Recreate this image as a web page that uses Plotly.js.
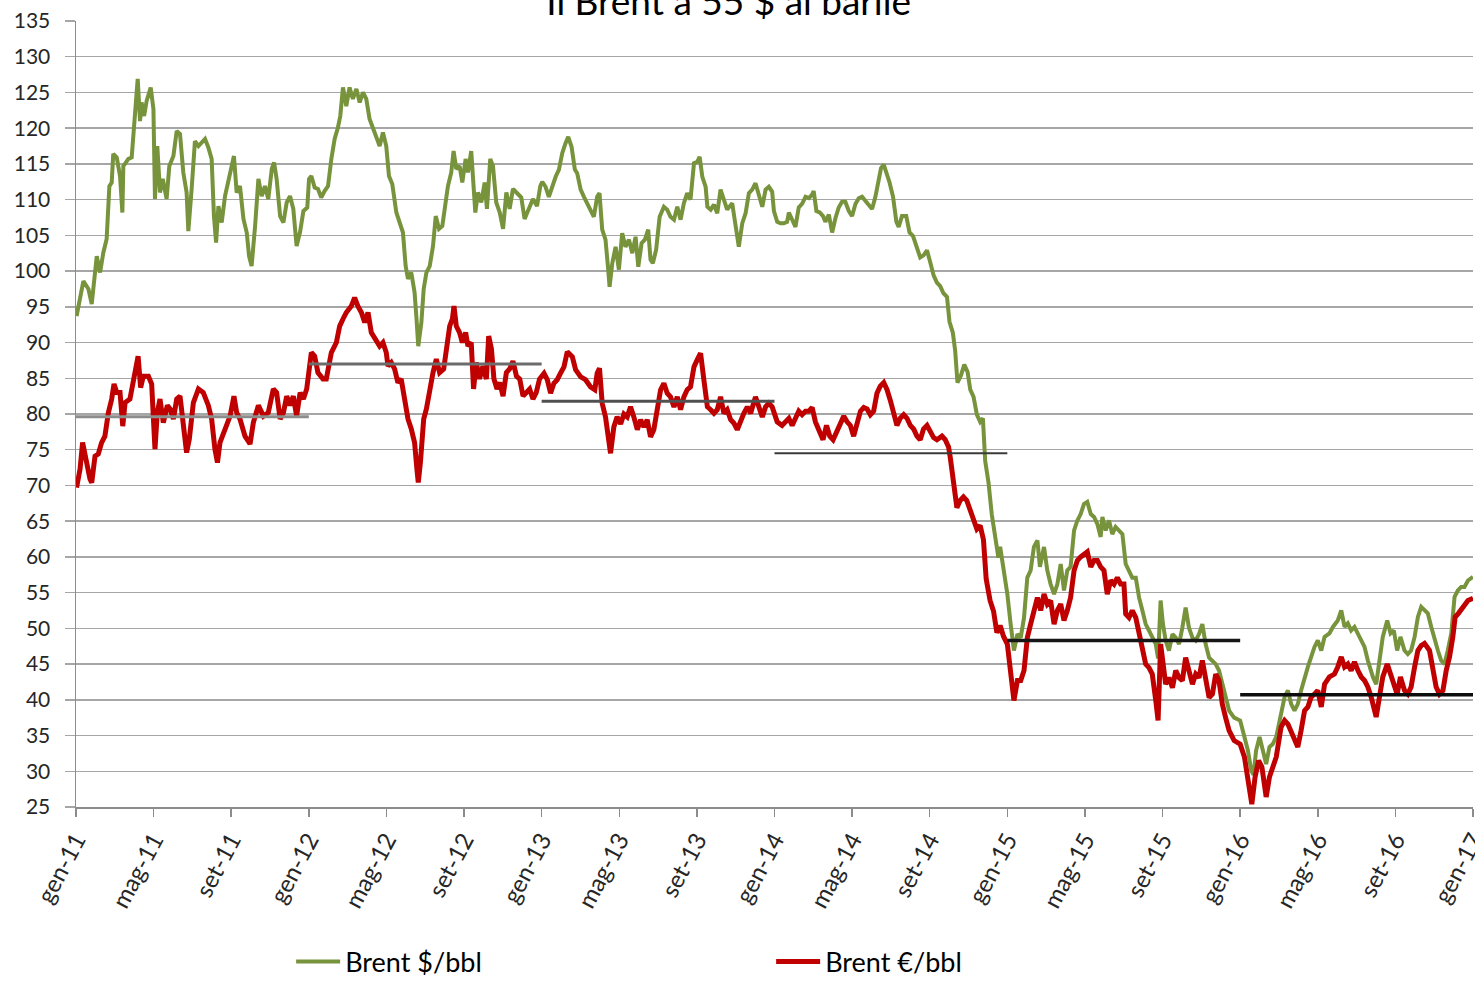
<!DOCTYPE html>
<html>
<head>
<meta charset="utf-8">
<script src="https://cdn.plot.ly/plotly-3.0.1.min.js"></script>
<style>
  html, body { margin: 0; padding: 0; background: #fff; }
  #chart { width: 1475px; height: 981px; }
</style>
</head>
<body>
<div id="chart"></div>
<script>
// x = months since gen-11 (Jan 2011)
const tickMonths = [0, 4, 8, 12, 16, 20, 24, 28, 32, 36, 40, 44, 48, 52, 56, 60, 64, 68, 72];
const tickLabels = ['gen-11', 'mag-11', 'set-11', 'gen-12', 'mag-12', 'set-12', 'gen-13', 'mag-13', 'set-13',
  'gen-14', 'mag-14', 'set-14', 'gen-15', 'mag-15', 'set-15', 'gen-16', 'mag-16', 'set-16', 'gen-17'];

const usdMonths = [
  0.03, 0.12, 0.38, 0.64, 0.81, 1.07, 1.24, 1.41, 1.58, 1.72, 1.84, 1.92, 2.10, 2.27, 2.39, 2.44, 2.70, 2.87, 2.96, 3.09,
  3.18, 3.30, 3.38, 3.51, 3.64, 3.85, 3.99, 4.07, 4.19, 4.33, 4.47, 4.67, 4.81, 5.02, 5.19, 5.36, 5.53, 5.70, 5.79, 5.96,
  6.13, 6.31, 6.48, 6.65, 6.82, 6.99, 7.11, 7.22, 7.34, 7.51, 7.68, 7.85, 8.02, 8.14, 8.28, 8.45, 8.63, 8.80, 8.92, 9.05,
  9.23, 9.40, 9.57, 9.74, 9.91, 10.09, 10.21, 10.34, 10.52, 10.69, 10.86, 11.03, 11.20, 11.37, 11.55, 11.72, 11.92,
  12.01, 12.13, 12.30, 12.47, 12.64, 12.81, 12.99, 13.16, 13.33, 13.50, 13.62, 13.76, 13.93, 14.10, 14.27, 14.45, 14.62, 14.79, 14.96, 15.13,
  15.27, 15.48, 15.65, 15.82, 15.99, 16.13, 16.30, 16.51, 16.68, 16.85, 16.99, 17.11, 17.28, 17.45, 17.54, 17.64, 17.80, 17.92, 18.06, 18.23,
  18.40, 18.54, 18.71, 18.88, 19.05, 19.17, 19.34, 19.46, 19.60, 19.77, 19.91, 20.08, 20.20, 20.37, 20.49, 20.58, 20.72, 20.89, 21.06, 21.18,
  21.35, 21.49, 21.66, 21.84, 22.01, 22.18, 22.35, 22.52, 22.70, 22.95, 23.12, 23.38, 23.55, 23.76, 23.93,
  24.03, 24.20, 24.37, 24.54, 24.72, 24.89, 25.06, 25.23, 25.37, 25.54, 25.71, 25.83, 26.01, 26.18, 26.35, 26.52, 26.69, 26.86, 26.98, 27.12,
  27.29, 27.43, 27.50, 27.64, 27.81, 27.98, 28.15, 28.32, 28.50, 28.67, 28.84, 28.98, 29.15, 29.32, 29.49, 29.61, 29.73, 29.90, 30.08, 30.30,
  30.47, 30.64, 30.82, 30.99, 31.16, 31.33, 31.50, 31.67, 31.85, 32.02, 32.14, 32.28, 32.45, 32.54, 32.71, 32.88, 33.05, 33.22, 33.39, 33.56,
  33.82, 33.99, 34.16, 34.34, 34.51, 34.68, 34.85, 35.02, 35.20, 35.37, 35.54, 35.71, 35.88,
  35.97, 36.14, 36.31, 36.48, 36.65, 36.74, 36.91, 37.08, 37.25, 37.42, 37.60, 37.77, 37.94, 38.02, 38.16, 38.33, 38.50, 38.62, 38.80, 38.97,
  39.14, 39.31, 39.48, 39.65, 39.83, 40.00, 40.17, 40.34, 40.51, 40.68, 40.85, 41.03, 41.20, 41.37, 41.49, 41.63, 41.76, 41.93, 42.11, 42.28,
  42.40, 42.57, 42.79, 42.96, 43.14, 43.31, 43.51, 43.68, 43.86, 44.03, 44.20, 44.37, 44.54, 44.71, 44.89, 45.02, 45.19, 45.31, 45.43, 45.61,
  45.78, 45.95, 46.09, 46.26, 46.43, 46.60, 46.74, 46.86, 47.03, 47.20, 47.37, 47.54, 47.63, 47.80,
  48.00, 48.17, 48.34, 48.52, 48.69, 48.86, 49.03, 49.20, 49.37, 49.55, 49.68, 49.89, 50.06, 50.23, 50.41, 50.58, 50.75, 50.92, 51.09, 51.26,
  51.44, 51.61, 51.78, 51.95, 52.12, 52.30, 52.47, 52.64, 52.81, 52.90, 53.07, 53.24, 53.41, 53.58, 53.76, 53.93, 54.10, 54.27, 54.44, 54.62,
  54.79, 54.96, 55.13, 55.30, 55.47, 55.65, 55.77, 55.90, 56.02, 56.16, 56.33, 56.51, 56.68, 56.85, 57.02, 57.19, 57.36, 57.54, 57.71, 57.88,
  58.05, 58.22, 58.40, 58.57, 58.74, 58.91, 59.08, 59.25, 59.43, 59.69,
  60.00, 60.22, 60.40, 60.57, 60.69, 60.82, 61.00, 61.17, 61.34, 61.51, 61.68, 61.86, 62.11, 62.29, 62.46, 62.63, 62.80, 62.97, 63.14, 63.32,
  63.49, 63.66, 63.83, 64.00, 64.18, 64.35, 64.60, 64.78, 65.03, 65.21, 65.38, 65.55, 65.72, 65.89, 66.07, 66.24, 66.41, 66.58, 66.84, 67.01,
  67.18, 67.35, 67.58, 67.75, 67.92, 68.09, 68.26, 68.47, 68.64, 68.81, 68.99, 69.16, 69.33, 69.50, 69.67, 69.85, 70.02, 70.19, 70.36, 70.53,
  70.70, 70.88, 71.05, 71.22, 71.39, 71.56, 71.74, 72.00
];
const usdValues = [
  93.7, 95.1, 98.6, 97.5, 95.4, 102.1, 99.8, 102.6, 104.5, 111.9, 112.4, 116.4, 115.9, 113.3, 108.2, 114.7, 115.7, 115.9, 118.9, 122.7,
  126.9, 121.0, 123.6, 121.7, 123.8, 125.7, 122.7, 110.1, 117.5, 111.0, 112.9, 110.1, 114.7, 116.1, 119.6, 119.2, 113.8, 111.0, 105.6, 111.5,
  118.2, 117.5, 118.0, 118.5, 117.3, 115.7, 107.7, 104.0, 109.1, 106.8, 110.5, 112.4, 114.7, 116.1, 111.0, 111.9, 107.3, 105.4, 102.1, 100.7,
  106.3, 112.9, 110.5, 111.9, 110.1, 114.3, 115.2, 112.9, 107.7, 106.8, 109.6, 110.5, 108.7, 103.5, 105.5, 108.4, 108.9,
  112.9, 113.3, 111.7, 111.5, 110.3, 111.2, 111.9, 115.7, 118.5, 120.1, 121.7, 125.7, 123.1, 125.7, 124.1, 125.5, 123.6, 125.0, 124.1, 121.3,
  120.3, 118.5, 117.5, 119.4, 117.5, 113.3, 112.2, 108.2, 106.8, 105.4, 100.7, 98.9, 99.8, 97.0, 93.7, 89.5, 92.8, 97.5, 99.8, 100.7,
  103.5, 107.7, 105.9, 106.3, 109.6, 111.9, 113.8, 116.8, 114.3, 114.7, 112.4, 115.7, 113.8, 116.8, 111.9, 108.2, 111.0, 109.6, 112.4, 108.7,
  115.7, 114.7, 109.6, 108.2, 105.9, 111.0, 108.7, 111.5, 111.0, 110.3, 107.3, 109.1, 110.1, 109.1, 111.9,
  112.5, 111.8, 110.4, 111.8, 113.2, 114.2, 116.5, 117.9, 118.8, 117.4, 114.2, 113.7, 111.4, 110.4, 109.5, 108.8, 107.6, 110.4, 110.9, 105.8,
  104.4, 100.2, 97.8, 101.1, 103.4, 100.2, 105.3, 103.4, 104.4, 102.5, 104.8, 100.6, 103.9, 104.4, 105.8, 101.6, 101.1, 103.0, 107.6, 109.0,
  108.6, 107.6, 107.2, 109.0, 107.2, 109.5, 110.9, 110.0, 115.1, 115.3, 116.0, 113.2, 111.8, 109.0, 108.6, 109.3, 108.1, 111.4, 110.0, 108.6,
  109.5, 106.7, 103.4, 106.7, 108.1, 110.9, 111.4, 112.3, 110.4, 109.0, 111.4, 111.8, 111.1,
  108.4, 106.9, 106.7, 106.7, 106.9, 108.2, 107.2, 106.2, 108.9, 109.4, 110.4, 110.2, 110.7, 111.2, 108.4, 108.2, 107.7, 106.9, 107.9, 105.4,
  107.4, 108.9, 109.7, 109.7, 108.4, 107.7, 109.4, 110.2, 110.4, 109.9, 109.4, 108.7, 110.4, 112.9, 114.4, 114.9, 113.9, 112.4, 110.4, 106.9,
  106.2, 107.7, 107.7, 105.4, 104.9, 103.4, 101.9, 102.2, 102.9, 101.2, 99.4, 98.4, 97.9, 96.9, 96.4, 92.9, 91.4, 88.9, 84.4, 85.4,
  86.9, 85.9, 83.4, 82.4, 79.9, 78.9, 79.4, 73.4, 70.4, 65.9, 62.9, 59.9, 61.4, 58.4,
  54.8, 50.6, 46.9, 49.2, 48.7, 51.5, 57.1, 58.1, 61.4, 62.3, 58.6, 61.4, 58.1, 56.2, 54.8, 56.2, 59.0, 55.3, 58.1, 58.6,
  63.7, 65.1, 66.0, 67.4, 67.7, 66.0, 65.6, 64.6, 62.8, 65.6, 63.7, 65.1, 63.2, 64.2, 63.7, 63.2, 59.0, 58.1, 57.1, 57.1,
  54.3, 52.5, 50.6, 49.7, 48.7, 47.8, 45.8, 53.9, 50.6, 48.3, 46.9, 49.2, 48.7, 47.8, 50.1, 52.9, 50.1, 48.7, 48.3, 49.2,
  50.6, 47.8, 45.9, 45.5, 45.0, 44.1, 42.2, 40.3, 38.5, 37.5,
  37.1, 34.8, 32.9, 30.1, 29.5, 32.9, 34.8, 32.9, 31.0, 33.4, 33.8, 34.8, 38.5, 40.4, 41.3, 39.4, 38.5, 39.4, 41.3, 43.2,
  44.6, 46.0, 47.4, 48.3, 46.9, 48.8, 49.3, 50.2, 51.1, 52.5, 50.2, 50.7, 49.7, 50.2, 49.3, 48.3, 47.4, 45.5, 43.2, 42.2,
  45.5, 48.8, 51.1, 49.3, 49.7, 46.9, 48.8, 46.9, 46.4, 46.9, 48.8, 51.6, 53.0, 52.5, 52.1, 50.2, 48.3, 46.9, 45.5, 45.0,
  46.9, 49.3, 54.4, 55.3, 55.8, 55.8, 56.7, 57.2
];

const eurMonths = [
  0.03, 0.21, 0.34, 0.52, 0.72, 0.81, 0.98, 1.15, 1.32, 1.49, 1.67, 1.84, 1.96, 2.10, 2.27, 2.41, 2.53, 2.78, 2.96, 3.08,
  3.20, 3.33, 3.47, 3.73, 3.90, 4.07, 4.19, 4.33, 4.50, 4.71, 4.85, 5.02, 5.19, 5.36, 5.53, 5.70, 5.84, 6.05, 6.31, 6.56,
  6.82, 6.99, 7.16, 7.29, 7.42, 7.68, 7.94, 8.14, 8.28, 8.45, 8.71, 8.97, 9.14, 9.40, 9.66, 9.91, 10.17, 10.34, 10.52, 10.69,
  10.86, 11.03, 11.20, 11.37, 11.55, 11.72, 11.89,
  12.13, 12.30, 12.47, 12.73, 12.90, 13.16, 13.42, 13.59, 13.76, 13.93, 14.19, 14.36, 14.53, 14.71, 14.88, 15.05, 15.22, 15.44, 15.65, 15.82,
  15.99, 16.08, 16.25, 16.42, 16.59, 16.76, 16.94, 17.11, 17.28, 17.45, 17.57, 17.64, 17.75, 17.92, 18.06, 18.23, 18.40, 18.57, 18.74, 18.95,
  19.09, 19.26, 19.40, 19.48, 19.60, 19.77, 19.91, 20.08, 20.20, 20.37, 20.49, 20.63, 20.80, 20.97, 21.15, 21.27, 21.41, 21.54, 21.70, 21.84,
  22.01, 22.18, 22.35, 22.52, 22.70, 22.87, 23.04, 23.20, 23.38, 23.55, 23.72, 23.89,
  24.12, 24.29, 24.46, 24.63, 24.80, 24.97, 25.15, 25.32, 25.58, 25.75, 26.01, 26.26, 26.52, 26.74, 26.86, 26.98, 27.12, 27.29, 27.47, 27.55,
  27.72, 27.89, 28.07, 28.24, 28.41, 28.58, 28.75, 28.93, 29.10, 29.27, 29.44, 29.61, 29.78, 29.96, 30.13, 30.30, 30.47, 30.64, 30.82, 30.99,
  31.16, 31.33, 31.50, 31.67, 31.85, 32.02, 32.19, 32.36, 32.54, 32.71, 32.88, 33.05, 33.22, 33.39, 33.56, 33.74, 33.91, 34.08, 34.25, 34.42,
  34.60, 34.77, 35.02, 35.20, 35.37, 35.54, 35.71, 35.88,
  36.14, 36.39, 36.57, 36.74, 36.91, 37.08, 37.25, 37.42, 37.60, 37.77, 37.94, 38.11, 38.28, 38.50, 38.68, 38.85, 39.02, 39.19, 39.40, 39.57,
  39.74, 39.91, 40.08, 40.25, 40.43, 40.60, 40.77, 40.94, 41.11, 41.28, 41.45, 41.63, 41.80, 41.97, 42.14, 42.31, 42.48, 42.66, 42.83, 43.00,
  43.17, 43.34, 43.51, 43.68, 43.86, 44.03, 44.20, 44.37, 44.63, 44.80, 44.97, 45.06, 45.23, 45.40, 45.57, 45.74, 45.91, 46.09, 46.26, 46.43,
  46.60, 46.77, 46.91, 47.11, 47.29, 47.46, 47.63, 47.80,
  48.00, 48.17, 48.34, 48.52, 48.69, 48.86, 49.03, 49.20, 49.37, 49.55, 49.72, 49.89, 50.06, 50.23, 50.41, 50.58, 50.75, 50.92, 51.09, 51.26,
  51.44, 51.61, 51.78, 51.95, 52.12, 52.30, 52.47, 52.64, 52.81, 52.98, 53.15, 53.33, 53.50, 53.67, 53.84, 54.01, 54.10, 54.27, 54.44, 54.62,
  54.79, 54.96, 55.13, 55.30, 55.47, 55.65, 55.77, 55.90, 56.04, 56.16, 56.33, 56.51, 56.68, 56.85, 57.02, 57.19, 57.36, 57.54, 57.71, 57.88,
  58.05, 58.22, 58.40, 58.57, 58.74, 58.91, 59.08, 59.25, 59.43, 59.69,
  60.00, 60.22, 60.40, 60.60, 60.77, 60.95, 61.12, 61.34, 61.51, 61.68, 61.86, 62.11, 62.29, 62.46, 62.71, 62.97, 63.14, 63.32, 63.49, 63.66,
  63.83, 64.00, 64.18, 64.35, 64.60, 64.86, 65.03, 65.21, 65.38, 65.55, 65.72, 65.89, 66.07, 66.24, 66.41, 66.58, 66.75, 66.92, 67.01, 67.18,
  67.35, 67.58, 67.75, 67.92, 68.09, 68.26, 68.47, 68.64, 68.81, 68.99, 69.16, 69.33, 69.50, 69.76, 69.93, 70.10, 70.27, 70.45, 70.62, 70.79,
  70.96, 71.08, 71.25, 71.48, 71.74, 72.00
];
const eurValues = [
  69.7, 72.3, 76.0, 73.2, 70.9, 70.4, 74.1, 74.4, 76.0, 76.9, 80.2, 82.1, 84.2, 83.0, 83.0, 78.3, 81.6, 82.1, 84.9, 85.8,
  88.1, 83.7, 85.3, 85.3, 84.2, 75.1, 80.2, 82.1, 78.8, 81.2, 80.7, 79.3, 82.1, 82.5, 77.9, 74.6, 76.5, 81.6, 83.5, 83.0,
  81.2, 79.3, 75.1, 73.2, 76.0, 77.9, 79.7, 82.5, 80.2, 79.3, 76.9, 75.8, 78.8, 81.2, 79.7, 80.2, 83.5, 83.0, 79.3, 80.2,
  82.5, 81.2, 82.5, 79.7, 83.0, 82.1, 83.5,
  88.6, 88.1, 85.8, 84.9, 84.9, 88.6, 90.0, 92.3, 93.3, 94.2, 95.1, 96.3, 95.1, 94.2, 92.8, 94.2, 91.4, 90.5, 89.5, 90.0,
  88.6, 86.7, 87.2, 86.3, 84.4, 84.9, 81.6, 79.3, 77.9, 76.0, 72.3, 70.4, 73.2, 79.3, 80.7, 83.5, 85.8, 87.7, 85.8, 86.3,
  88.6, 92.3, 93.3, 95.1, 92.3, 91.4, 90.0, 91.4, 89.5, 90.0, 83.5, 87.2, 84.9, 86.7, 84.9, 90.9, 89.1, 84.9, 83.5, 84.4,
  82.5, 85.8, 86.3, 87.4, 85.3, 84.9, 82.5, 83.0, 83.5, 82.1, 83.0, 84.9,
  85.7, 84.8, 82.9, 84.3, 84.8, 85.7, 86.6, 88.7, 88.0, 86.2, 85.2, 84.8, 83.8, 83.4, 85.7, 86.4, 81.5, 79.6, 75.0, 74.5,
  78.2, 79.6, 78.6, 80.0, 79.6, 81.0, 79.6, 77.8, 79.2, 78.2, 79.2, 76.8, 77.8, 80.6, 83.4, 84.3, 82.9, 82.4, 81.0, 82.4,
  80.6, 82.4, 83.4, 83.8, 86.6, 87.6, 88.5, 84.8, 81.0, 80.6, 80.1, 80.6, 82.4, 80.1, 80.6, 79.2, 78.7, 77.8, 79.2, 80.1,
  81.0, 80.1, 82.4, 81.0, 79.6, 81.0, 81.5, 81.0,
  78.9, 78.4, 78.9, 79.4, 78.4, 79.4, 80.4, 79.9, 80.4, 80.4, 80.9, 78.9, 77.9, 76.4, 78.4, 76.9, 76.4, 77.4, 78.9, 79.7,
  78.9, 78.4, 76.9, 78.9, 80.4, 80.9, 80.7, 79.9, 80.4, 82.9, 83.9, 84.4, 83.4, 81.9, 80.4, 78.4, 79.4, 79.9, 79.4, 78.4,
  77.9, 76.9, 76.4, 77.9, 78.4, 77.4, 76.7, 76.4, 76.9, 76.4, 75.4, 73.9, 70.9, 66.9, 67.9, 68.4, 67.9, 66.4, 65.4, 63.9,
  64.4, 62.4, 56.9, 53.9, 52.4, 49.4, 50.4, 48.9,
  47.8, 43.6, 39.9, 42.7, 42.7, 44.1, 48.7, 50.6, 52.5, 54.3, 52.5, 54.8, 53.4, 53.9, 50.6, 52.5, 53.4, 51.1, 52.5, 54.3,
  58.1, 59.5, 60.0, 60.4, 60.7, 58.6, 59.5, 59.5, 58.6, 58.1, 54.8, 56.7, 56.2, 57.1, 56.2, 56.2, 52.0, 51.5, 52.5, 51.5,
  49.2, 46.9, 45.0, 44.5, 43.6, 39.9, 37.1, 47.8, 44.1, 42.2, 43.1, 41.7, 44.1, 43.1, 42.7, 45.9, 44.1, 42.2, 43.6, 43.1,
  45.5, 43.1, 40.3, 40.8, 43.6, 42.7, 39.4, 37.5, 35.7, 34.3,
  33.8, 32.0, 28.7, 25.4, 29.2, 31.5, 30.6, 26.4, 29.2, 30.6, 32.0, 36.2, 37.1, 36.6, 35.2, 33.4, 35.7, 38.5, 39.0, 40.4,
  40.8, 41.3, 39.0, 42.2, 43.2, 43.6, 44.6, 46.0, 44.6, 45.0, 44.1, 45.3, 44.1, 43.2, 42.7, 41.8, 40.4, 38.5, 37.6, 40.4,
  43.2, 45.0, 43.6, 42.7, 40.8, 43.2, 41.3, 40.8, 41.8, 44.6, 46.9, 47.6, 47.9, 46.9, 44.6, 41.8, 40.8, 41.3, 44.1, 46.0,
  48.8, 51.6, 52.1, 53.0, 53.9, 54.2
];

// yearly average of the €/bbl series
const avgStart = [0, 12, 24, 36, 48, 60];
const avgEnd = [12, 24, 36, 48, 60, 72];
const avgValues = [79.6, 87.0, 81.8, 74.5, 48.3, 40.7];
const avgColors = ['#8c8c8c', '#6b6b6b', '#505050', '#3a3a3a', '#161616', '#0d0d0d'];
const avgWidths = [3, 3, 3, 2, 3.5, 3.5];

const font = 'Lato, "Open Sans", sans-serif';

const traces = [
  {
    x: usdMonths, y: usdValues, name: 'Brent $/bbl', type: 'scatter', mode: 'lines',
    line: { color: '#77933C', width: 4 }
  },
  {
    x: eurMonths, y: eurValues, name: 'Brent €/bbl', type: 'scatter', mode: 'lines',
    line: { color: '#C00000', width: 5 }
  }
];

avgValues.forEach((v, i) => {
  traces.push({
    x: [avgStart[i], avgEnd[i]], y: [v, v], type: 'scatter', mode: 'lines',
    showlegend: false, hoverinfo: 'skip',
    line: { color: avgColors[i], width: avgWidths[i] }
  });
});

const layout = {
  width: 1475,
  height: 981,
  margin: { l: 76, r: 2, t: 21, b: 174, autoexpand: false },
  paper_bgcolor: '#fff',
  plot_bgcolor: '#fff',
  title: {
    text: 'Il Brent a 55 $ al barile',
    font: { family: font, size: 37, color: '#000' },
    xref: 'container', x: 0.494, xanchor: 'center',
    yref: 'container', y: 0.9977, yanchor: 'middle'
  },
  xaxis: {
    range: [0, 72],
    tickmode: 'array', tickvals: tickMonths, ticktext: tickLabels,
    tickangle: -62,
    ticklabeloverflow: 'allow',
    ticks: 'outside', ticklen: 8, tickcolor: '#8c8c8c', tickwidth: 1.5,
    showline: true, linecolor: '#8c8c8c', linewidth: 1.5,
    showgrid: false, zeroline: false,
    tickfont: { family: font, size: 24, color: '#262626' }
  },
  yaxis: {
    range: [25, 135], tick0: 25, dtick: 5,
    ticks: 'outside', ticklen: 10, tickcolor: '#a6a6a6', tickwidth: 1.5,
    ticklabelstandoff: 10,
    showline: true, linecolor: '#8c8c8c', linewidth: 1.5,
    gridcolor: '#a6a6a6', gridwidth: 1.5, zeroline: false,
    tickfont: { family: font, size: 21, color: '#262626' }
  },
  showlegend: true,
  legend: {
    orientation: 'h',
    x: 0.154, xanchor: 'left',
    y: -0.1972, yanchor: 'middle',
    itemwidth: 44,
    entrywidth: 421,
    font: { family: font, size: 27, color: '#000' }
  }
};

Plotly.newPlot('chart', traces, layout, { displayModeBar: false, staticPlot: true });
</script>
</body>
</html>
